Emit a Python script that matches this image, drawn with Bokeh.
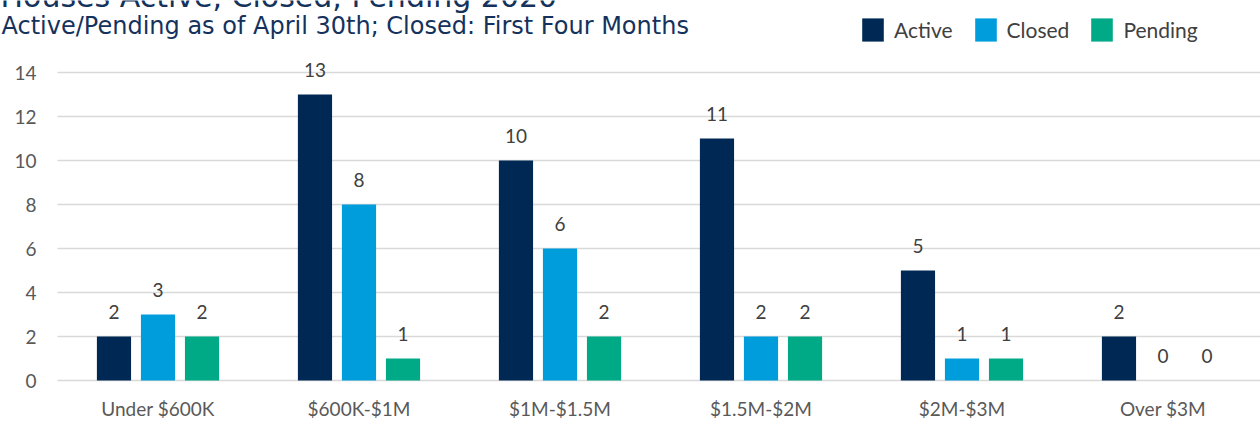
from bokeh.plotting import figure
from bokeh.models import ColumnDataSource, Legend, LegendItem, Label, LabelSet
from bokeh.core.properties import value
from bokeh.embed import file_html
from bokeh.resources import INLINE

categories = ["Under $600K", "$600K-$1M", "$1M-$1.5M", "$1.5M-$2M", "$2M-$3M", "Over $3M"]
active = [2, 13, 10, 11, 5, 2]
closed = [3, 8, 6, 2, 1, 0]
pending = [2, 1, 2, 2, 1, 0]
series_names = ["Active", "Closed", "Pending"]
y_ticks = [0, 2, 4, 6, 8, 10, 12, 14]
title_text = "Houses Active, Closed, Pending 2020"
subtitle_text = "Active/Pending as of April 30th; Closed: First Four Months"

colors = ["#002855", "#009DDC", "#00AA86"]
offsets = [-0.219, 0.0, 0.219]
bar_w = 0.17
FONT = "Lato"
TITLE_FONT = "DejaVu Sans"
W, H = 1260, 422
PX_X = 201.0   # pixels per category
PX_Y = 22.0    # pixels per unit
X0_PX, Y0_PX = 157.5, 380.0
plot_left = -0.5

p = figure(width=W, height=H, output_backend="svg", toolbar_location=None,
           x_range=(-X0_PX / PX_X, (W - X0_PX) / PX_X),
           y_range=(-(H - Y0_PX) / PX_Y, Y0_PX / PX_Y),
           min_border=0)
p.outline_line_color = None
p.axis.visible = False
p.grid.visible = False
p.background_fill_color = "white"
p.border_fill_color = "white"

# gridlines and y tick labels
x_end = (W - X0_PX) / PX_X
p.segment(x0=[plot_left] * len(y_ticks), x1=[x_end] * len(y_ticks), y0=y_ticks, y1=y_ticks,
          line_color="#D9D9D9", line_width=1.5)
p.text(x=[plot_left] * len(y_ticks), y=y_ticks, text=[str(t) for t in y_ticks],
       x_offset=-21, text_align="right", text_baseline="middle",
       text_font=value(FONT), text_font_size="19px", text_color="#595959")

# category labels
p.text(x=list(range(len(categories))), y=[0] * len(categories), text=categories,
       y_offset=28, text_align="center", text_baseline="middle",
       text_font=value(FONT), text_font_size="19px", text_color="#595959")

items = []
for name, vals, col, off in zip(series_names, [active, closed, pending], colors, offsets):
    src = ColumnDataSource(dict(x=[i + off for i in range(len(categories))], y=vals,
                                lbl=[str(v) for v in vals]))
    r = p.vbar(x="x", top="y", width=bar_w, source=src, fill_color=col, line_color=None)
    items.append(LegendItem(label=name, renderers=[r]))
    p.add_layout(LabelSet(x="x", y="y", text="lbl", source=src, y_offset=25,
                          text_align="center", text_baseline="middle",
                          text_font=value(FONT), text_font_size="19px", text_color="#404040"))

legend = Legend(items=items, orientation="horizontal", location=(859, H - 44),
                glyph_width=27, glyph_height=29, label_standoff=8, spacing=19,
                padding=0, margin=0, border_line_color=None, background_fill_alpha=0,
                label_text_font=FONT, label_text_font_size="21px",
                label_text_color="#404040", label_text_baseline="middle")
p.add_layout(legend, "center")

p.add_layout(Label(x=0, y=H + 4, x_units="screen", y_units="screen", text=title_text,
                   text_font=TITLE_FONT, text_font_size="30px", text_color="#14325C",
                   text_baseline="alphabetic"))
p.add_layout(Label(x=1, y=H - 25, x_units="screen", y_units="screen", text=subtitle_text,
                   text_font=TITLE_FONT, text_font_size="24px", text_color="#14325C",
                   text_baseline="alphabetic"))

open("out.html", "w").write(file_html(p, INLINE))
